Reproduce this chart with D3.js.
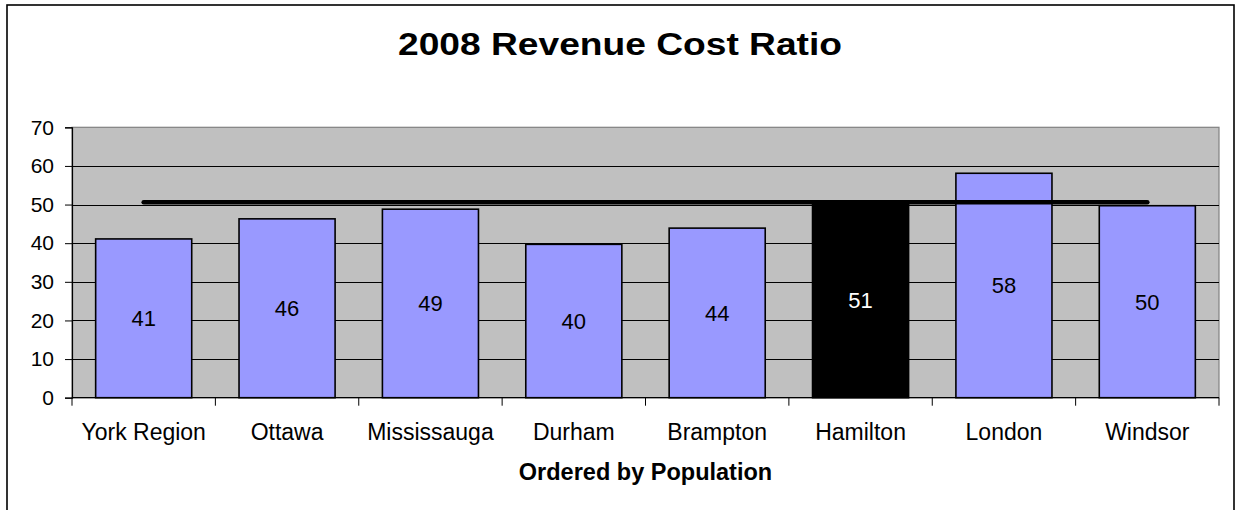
<!DOCTYPE html>
<html>
<head>
<meta charset="utf-8">
<script src="https://cdn.jsdelivr.net/npm/d3@7"></script>
<style>
  html, body { margin: 0; padding: 0; background: #fff; }
  svg { display: block; font-family: "Liberation Sans", Arial, sans-serif; }
</style>
</head>
<body>
<svg id="chart" width="1236" height="510"></svg>
<script>
const categories = ["York Region", "Ottawa", "Mississauga", "Durham", "Brampton", "Hamilton", "London", "Windsor"];
const ratios = [41.1, 46.3, 48.8, 39.7, 43.9, 50.6, 58.1, 49.7];
const highlighted = ["Hamilton"];
const referenceLine = [50.6, 50.6, 50.6, 50.6, 50.6, 50.6, 50.6, 50.6];
const yTicks = [0, 10, 20, 30, 40, 50, 60, 70];
const titleText = "2008 Revenue Cost Ratio";
const xTitleText = "Ordered by Population";

const svg = d3.select("#chart");
const plot = { left: 72, right: 1219, top: 127.3, bottom: 397.7 };

// outer chart border (bottom cut off)
svg.append("rect")
  .attr("x", 7).attr("y", 5).attr("width", 1227).attr("height", 520)
  .attr("fill", "#fff").attr("stroke", "#000").attr("stroke-width", 1.6);

const x = d3.scaleBand().domain(categories).range([plot.left, plot.right]).padding(0);
const y = d3.scaleLinear().domain([0, 70]).range([plot.bottom, plot.top]);

// plot background
svg.append("rect")
  .attr("x", plot.left).attr("y", plot.top)
  .attr("width", plot.right - plot.left).attr("height", plot.bottom - plot.top)
  .attr("fill", "#C0C0C0").attr("stroke", "#808080").attr("stroke-width", 1.2);

// gridlines
svg.append("g").selectAll("line").data(yTicks.filter(t => t > 0 && t < 70)).join("line")
  .attr("x1", plot.left).attr("x2", plot.right)
  .attr("y1", d => Math.round(y(d)) + 0.5).attr("y2", d => Math.round(y(d)) + 0.5)
  .attr("stroke", "#000").attr("stroke-width", 1);

// bars
const bw = x.bandwidth() * 0.67;
const off = (x.bandwidth() - bw) / 2;
svg.append("g").selectAll("rect").data(categories).join("rect")
  .attr("x", (d) => x(d) + off)
  .attr("y", (d, i) => y(ratios[i]))
  .attr("width", bw)
  .attr("height", (d, i) => y(0) - y(ratios[i]))
  .attr("fill", d => highlighted.includes(d) ? "#000" : "#9999FF")
  .attr("stroke", "#000").attr("stroke-width", 1.6);

// reference line
const line = d3.line().x((d, i) => x(categories[i]) + x.bandwidth() / 2).y(d => y(d));
svg.append("path").datum(referenceLine)
  .attr("d", line).attr("fill", "none")
  .attr("stroke", "#000").attr("stroke-width", 4.5).attr("stroke-linecap", "round");

// data labels
svg.append("g").selectAll("text").data(categories).join("text")
  .attr("x", d => x(d) + x.bandwidth() / 2)
  .attr("y", (d, i) => (y(ratios[i]) + y(0)) / 2)
  .attr("dy", "0.36em")
  .attr("text-anchor", "middle")
  .attr("font-size", 22)
  .attr("fill", d => highlighted.includes(d) ? "#fff" : "#000")
  .text((d, i) => Math.round(ratios[i]));

// y axis
const yAxis = d3.axisLeft(y).tickValues(yTicks).tickSize(7).tickPadding(11);
const gy = svg.append("g").attr("transform", `translate(${plot.left},0)`).call(yAxis);
gy.select(".domain").attr("stroke", "#000").attr("stroke-width", 1.2);
gy.selectAll(".tick line").attr("stroke", "#000");
gy.selectAll(".tick text").attr("font-size", 21).attr("font-family", "Liberation Sans, Arial, sans-serif").attr("fill", "#000");

// x axis: ticks at category boundaries
svg.append("line")
  .attr("x1", plot.left).attr("x2", plot.right)
  .attr("y1", plot.bottom).attr("y2", plot.bottom)
  .attr("stroke", "#000").attr("stroke-width", 1.2);
const bounds = categories.map(c => x(c)).concat([plot.right]);
svg.append("g").selectAll("line").data(bounds).join("line")
  .attr("x1", d => d).attr("x2", d => d)
  .attr("y1", plot.bottom).attr("y2", plot.bottom + 8)
  .attr("stroke", "#000").attr("stroke-width", 1);
svg.append("g").selectAll("text").data(categories).join("text")
  .attr("x", d => x(d) + x.bandwidth() / 2)
  .attr("y", 440)
  .attr("text-anchor", "middle")
  .attr("font-size", 23)
  .attr("fill", "#000")
  .text(d => d);

// axis title
svg.append("text")
  .attr("x", (plot.left + plot.right) / 2).attr("y", 480)
  .attr("text-anchor", "middle")
  .attr("font-size", 23.5).attr("font-weight", "bold")
  .text(xTitleText);

// title (slightly stretched horizontally as in the reference)
svg.append("text")
  .attr("transform", "translate(620,55) scale(1.18,1)")
  .attr("text-anchor", "middle")
  .attr("font-size", 31.5).attr("font-weight", "bold")
  .text(titleText);
</script>
</body>
</html>
